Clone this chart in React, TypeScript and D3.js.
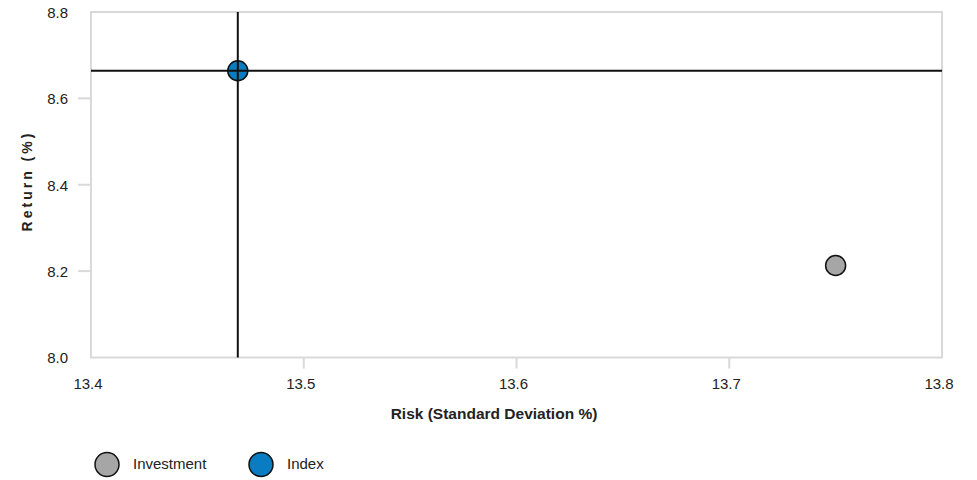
import React from "react";
import * as d3 from "d3";

const seriesNames = ["Investment", "Index"];
const riskValues = [13.75, 13.469];
const returnValues = [8.213, 8.664];
const seriesColors = ["#a6a6a6", "#0a7cc1"];
const xTicks = [13.4, 13.5, 13.6, 13.7, 13.8];
const yTicks = [8.0, 8.2, 8.4, 8.6, 8.8];
const xTitle = "Risk (Standard Deviation %)";
const yTitle = "Return (%)";

const W = 977;
const H = 480;
const left = 91, right = 942, top = 12, bottom = 357.5;

export default function App() {
  const x = d3.scaleLinear().domain([13.4, 13.8]).range([left, right]);
  const y = d3.scaleLinear().domain([8.0, 8.8]).range([bottom, top]);
  const font = "'Liberation Sans', Arial, sans-serif";
  const idx = 1;
  const ix = x(riskValues[idx]);
  const iy = y(returnValues[idx]);
  return (
    <svg width={W} height={H} style={{ position: "absolute", left: 0, top: 0, fontFamily: font }}>
      <rect x={0} y={0} width={W} height={H} fill="#fff" />
      {yTicks.slice(1, -1).map((t) => (
        <line key={"yt" + t} x1={78} x2={left} y1={y(t)} y2={y(t)} stroke="#d9d9d9" strokeWidth={2} />
      ))}
      {xTicks.slice(1, -1).map((t) => (
        <line key={"xt" + t} x1={x(t)} x2={x(t)} y1={bottom} y2={bottom + 11} stroke="#d9d9d9" strokeWidth={2} />
      ))}
      <rect x={left} y={top} width={right - left} height={bottom - top} fill="none" stroke="#d9d9d9" strokeWidth={2} />
      {yTicks.map((t) => (
        <text key={"yl" + t} x={68} y={y(t) + 2} textAnchor="end" dominantBaseline="middle" fontSize={15} fill="#222">
          {t.toFixed(1)}
        </text>
      ))}
      {xTicks.map((t) => (
        <text key={"xl" + t} x={x(t) - 3} y={385} textAnchor="middle" dominantBaseline="middle" fontSize={15} fill="#222">
          {t.toFixed(1)}
        </text>
      ))}
      <text x={494} y={415} textAnchor="middle" dominantBaseline="middle" fontSize={15.5} fontWeight="bold" fill="#222">
        {xTitle}
      </text>
      <text
        transform={`translate(28,181) rotate(-90)`}
        textAnchor="middle"
        dominantBaseline="middle"
        fontSize={14}
        fontWeight="bold"
        letterSpacing={3}
        fill="#222"
      >
        {yTitle}
      </text>
      {riskValues.map((r, i) => (
        <circle key={"p" + i} cx={x(r)} cy={y(returnValues[i])} r={10} fill={seriesColors[i]} stroke="#111" strokeWidth={1.5} />
      ))}
      <line x1={ix} x2={ix} y1={top} y2={bottom} stroke="#111" strokeWidth={2} />
      <line x1={left} x2={right} y1={iy} y2={iy} stroke="#111" strokeWidth={2} />
      {seriesNames.map((n, i) => {
        const cx = 107 + i * 154;
        return (
          <g key={"lg" + i}>
            <circle cx={cx} cy={464.5} r={12} fill={seriesColors[i]} stroke="#111" strokeWidth={1.5} />
            <text x={cx + 26} y={465} dominantBaseline="middle" fontSize={15} fill="#222">
              {n}
            </text>
          </g>
        );
      })}
    </svg>
  );
}
